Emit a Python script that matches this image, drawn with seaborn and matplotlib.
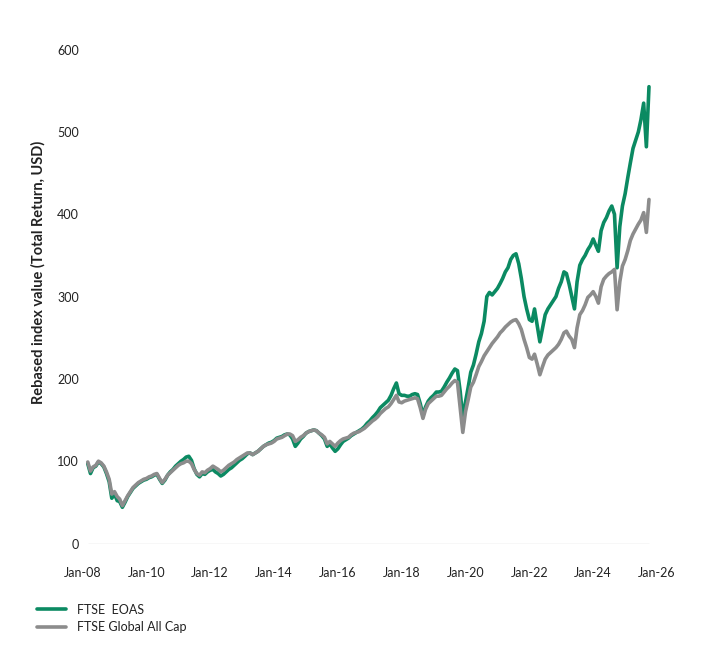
import pandas as pd
import seaborn as sns
import matplotlib.pyplot as plt
import matplotlib.dates as mdates

# monthly readings, Mar-2008 onwards
eoas = [97, 85, 92, 94, 99, 97, 93, 85, 75, 55, 60, 52, 51, 44, 50, 57, 62, 67, 70, 73,
        75, 77, 78, 80, 81, 83, 84, 78, 73, 77, 83, 87, 90, 94, 97, 100, 102, 105, 106, 101,
        91, 84, 81, 85, 84, 87, 89, 90, 87, 85, 82, 84, 87, 90, 92, 95, 98, 101, 103, 106,
        109, 110, 108, 110, 112, 115, 118, 120, 122, 123, 125, 128, 129, 130, 132, 133, 132, 127, 118, 122,
        127, 130, 134, 136, 137, 138, 137, 134, 131, 127, 118, 121, 116, 112, 115, 120, 124, 126, 128, 131,
        133, 135, 137, 139, 142, 146, 149, 153, 156, 160, 165, 168, 171, 174, 180, 188, 195, 182, 180, 180,
        179, 179, 181, 182, 181, 170, 156, 166, 173, 177, 180, 184, 184, 185, 190, 196, 201, 207, 212, 210,
        185, 152, 172, 190, 208, 217, 230, 245, 255, 270, 300, 305, 302, 306, 310, 316, 322, 330, 335, 345,
        350, 352, 340, 322, 300, 285, 272, 270, 285, 265, 245, 262, 278, 285, 290, 295, 300, 310, 318, 330,
        328, 315, 300, 285, 318, 338, 345, 350, 357, 362, 370, 362, 355, 380, 390, 396, 404, 410, 400, 335,
        385, 410, 425, 445, 462, 480, 490, 500, 515, 535, 482, 555]

global_all_cap = [99, 88, 93, 95, 100, 98, 94, 87, 78, 60, 63, 57, 54, 46, 52, 58, 63, 68, 71, 74,
                  76, 78, 79, 81, 82, 84, 85, 79, 74, 78, 83, 86, 89, 92, 95, 97, 98, 100, 100, 97,
                  90, 85, 83, 87, 86, 89, 91, 94, 92, 90, 87, 89, 92, 95, 97, 99, 102, 104, 106, 108,
                  110, 110, 108, 110, 112, 115, 118, 120, 121, 122, 124, 127, 128, 129, 131, 133, 133, 131, 124, 126,
                  129, 131, 134, 136, 137, 138, 137, 134, 132, 129, 121, 124, 121, 118, 122, 125, 127, 128, 129, 132,
                  134, 135, 136, 138, 140, 143, 146, 149, 151, 154, 158, 161, 164, 166, 170, 175, 180, 172, 171, 173,
                  174, 175, 176, 177, 176, 165, 152, 163, 170, 173, 176, 179, 179, 180, 184, 188, 191, 195, 198, 196,
                  165, 135, 160, 175, 190, 196, 205, 215, 221, 228, 233, 238, 243, 247, 251, 256, 259, 263, 266, 269,
                  271, 272, 267, 260, 248, 238, 226, 224, 230, 218, 205, 215, 224, 229, 232, 235, 238, 242, 248, 256,
                  258, 252, 248, 238, 262, 278, 283, 290, 299, 302, 306, 300, 292, 312, 321, 325, 328, 330, 333, 284,
                  318, 337, 345, 356, 368, 376, 382, 388, 393, 402, 378, 418]

series_names = ["FTSE  EOAS", "FTSE Global All Cap"]
colors = ["#0B8A62", "#8C8C8C"]
y_ticks = [0, 100, 200, 300, 400, 500, 600]

dates = pd.date_range("2008-03-01", periods=len(eoas), freq="MS")
df = pd.concat([
    pd.DataFrame({"date": dates, "value": eoas, "series": series_names[0]}),
    pd.DataFrame({"date": dates, "value": global_all_cap, "series": series_names[1]}),
])

sns.set_style("white")
plt.rcParams["font.family"] = ["Lato", "DejaVu Sans"]
text_color = "#222222"

fig = plt.figure(figsize=(7.09, 6.62), dpi=100)
ax = fig.add_axes([0.1164, 0.179, 0.8103, 0.746])

sns.lineplot(data=df, x="date", y="value", hue="series", hue_order=series_names,
             palette=colors, linewidth=2.6, ax=ax)

ax.hlines(0, dates[0], dates[-1], color="#d9d9d9", linewidth=1, zorder=0)

ax.set_xlim(pd.Timestamp("2008-01-01"), pd.Timestamp("2026-01-01"))
ax.set_ylim(0, 600)
ax.set_yticks(y_ticks)
ax.xaxis.set_major_locator(mdates.YearLocator(2, month=1, day=1))
ax.xaxis.set_major_formatter(mdates.DateFormatter("%b-%y"))
ax.tick_params(axis="y", length=0, pad=2.5, labelsize=9, labelcolor=text_color)
ax.tick_params(axis="x", length=0, pad=17, labelsize=9, labelcolor=text_color)
for s in ax.spines.values():
    s.set_visible(False)

ax.set_xlabel("")
ax.set_ylabel("Rebased index value (Total Return, USD)", fontsize=10.5,
              fontweight="bold", color=text_color)
ax.yaxis.set_label_coords(-0.064, 0.549)

handles, labels = ax.get_legend_handles_labels()
ax.get_legend().remove()
fig.legend(handles, labels, loc="upper left", bbox_to_anchor=(0.052, 0.088),
           frameon=False, fontsize=9, handlelength=2.3, handletextpad=0.9,
           labelspacing=0.45, borderpad=0, borderaxespad=0, labelcolor=text_color)

fig.savefig("out.png", dpi=100)
